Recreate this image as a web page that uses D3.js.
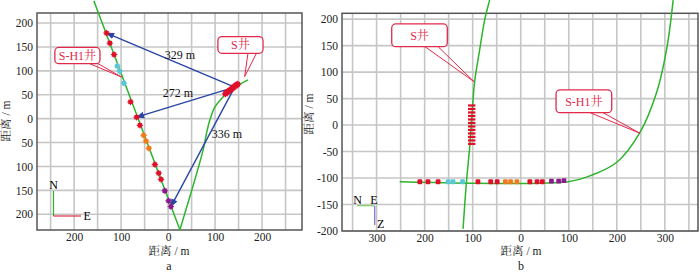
<!DOCTYPE html>
<html><head><meta charset="utf-8">
<script src="https://cdn.jsdelivr.net/npm/d3@7"></script>
<style>body{margin:0;background:#fff}svg{display:block}</style>
</head><body>
<svg id="c" width="700" height="272"></svg>
<script>
// ---------- data (metres) ----------
// Panel a: plan view
const aTicksX = [-200,-100,0,100,200];
const aTicksY = [-200,-150,-100,-50,0,50,100,150,200];
const aWellSH1 = [[-158,246.5],[25.3,-233]];
const aWellS = [[25,-233],[74.5,-66],[81.7,-31],[88.7,-3.5],[99.4,24],[113.6,41.7],[127.7,55.4],[144,67],[170,81]];
const aEventX = [-131,-124,-115,-108,-103,-94,-80,-67,-60,-52,-47,-41,-28,-20,-15,-7,1,6];
const aEventY = [179,158,134,110,99,74,35,3,-14,-35,-47,-62,-96,-114,-127,-151,-172,-184];
const eventGroup = [0,0,0,1,1,1,0,0,0,2,2,2,0,0,0,3,3,3];
const aSClusterX = [122,125,128,131,134,137,140,143,146,148];
const aSClusterY = [52,54.5,57,59,61.5,64,66,68.5,70.5,72];
const arrowFrom = [141.7,66];
const arrowToX = [-131,-67,6];
const arrowToY = [179,3,-184];
const distLabels = ["329 m","272 m","336 m"];
const distLabelX = [25,21,125];
const distLabelY = [134,55,-31];
// Panel b: vertical section
const bTicksX = [-300,-200,-100,0,100,200,300];
const bTicksY = [-200,-150,-100,-50,0,50,100,150,200];
const bWellS = [[-64.6,236],[-75,198.7],[-85.4,142.3],[-95.8,82.7],[-100.6,29.5],[-106,-39.5],[-113,-108],[-120,-196]];
const bWellSH1 = [[-252,-107],[98.6,-107],[143.7,-96],[199.4,-70.7],[248,-14.3],[282.7,61],[303.5,142],[317.3,236]];
const bEventX = [-210,-193,-172,-151,-141,-121,-89,-62.5,-49,-32,-21,-8,19,34,45,64,79,90];
const bEventY = [-107,-107,-107,-107,-107,-107,-107,-107,-107,-107,-107,-107,-107,-107,-107,-106,-106,-105];
const bSBarY = [37,30.4,23.8,17.2,10.6,4,-2.6,-9.2,-15.8,-22.4,-29,-35.6];
const bSBarX = -102;

const groupColors = ["#e0102a","#5bc7d6","#f07b1c","#8c1a8c"];
const green = "#2cb52c", blue = "#2a45a6", red = "#e2294a";
const serif = "'Liberation Serif','Times New Roman',serif";
const cjk = "'Liberation Serif','Noto Serif CJK SC','Noto Sans CJK SC',serif";

const svg = d3.select("#c");
const defs = svg.append("defs");
defs.append("marker").attr("id","ah").attr("viewBox","0 0 10 10").attr("refX",9).attr("refY",5)
  .attr("markerWidth",6).attr("markerHeight",6).attr("orient","auto-start-reverse")
  .append("path").attr("d","M0,1 L10,5 L0,9 z").attr("fill",blue);

// ---------- scales ----------
const xA = d3.scaleLinear().domain([-279,285]).range([37,302]);
const yA = d3.scaleLinear().domain([221,-233]).range([13,230]);
const xB = d3.scaleLinear().domain([-372,369]).range([342,698]);
const yB = d3.scaleLinear().domain([211,-200]).range([13.3,231]);

function panel(g, x, y, tx, ty, gx, gy, fmtY){
  const [x0,x1]=x.range(), [y0,y1]=y.range();
  g.append("g").selectAll("line").data(gx).join("line")
    .attr("x1",d=>x(d)).attr("x2",d=>x(d)).attr("y1",y0).attr("y2",y1)
    .attr("stroke","#c6c6c6").attr("stroke-width",1.6);
  g.append("g").selectAll("line").data(gy).join("line")
    .attr("y1",d=>y(d)).attr("y2",d=>y(d)).attr("x1",x0).attr("x2",x1)
    .attr("stroke","#c6c6c6").attr("stroke-width",1.6);
  g.append("rect").attr("x",x0).attr("y",y0).attr("width",x1-x0).attr("height",y1-y0)
    .attr("fill","none").attr("stroke","#555").attr("stroke-width",1.5);
  const ax = d3.axisBottom(x).tickValues(tx).tickSize(0).tickFormat(d=>Math.abs(d));
  const gax = g.append("g").attr("transform",`translate(0,${y1})`).call(ax);
  gax.select(".domain").remove();
  gax.selectAll("text").attr("dy",null).attr("y",10.5).attr("font-family",serif).attr("font-size",11.5).attr("fill","#222");
  const ay = d3.axisLeft(y).tickValues(ty).tickSize(0).tickFormat(fmtY);
  const gay = g.append("g").attr("transform",`translate(${x0},0)`).call(ay);
  gay.select(".domain").remove();
  gay.selectAll("text").attr("x",-4).attr("font-family",serif).attr("font-size",11.5).attr("fill","#222");
}

const line = d3.line().curve(d3.curveCatmullRom.alpha(0.5));
const straight = d3.line();

function callout(g, x, y, box, tip, base, label){
  g.append("path").attr("d",straight([[x(base[0][0]),y(base[0][1])],[x(tip[0]),y(tip[1])],[x(base[1][0]),y(base[1][1])]]))
    .attr("fill","none").attr("stroke",red).attr("stroke-width",1);
  const bx=x(box[0]), bw=x(box[1])-x(box[0]), by=y(box[2]), bh=y(box[3])-y(box[2]);
  g.append("rect").attr("x",bx).attr("y",by).attr("width",bw).attr("height",bh).attr("rx",4)
    .attr("fill","#fff").attr("stroke",red).attr("stroke-width",1.3);
  g.append("text").attr("x",bx+bw/2).attr("y",by+bh/2).attr("dy","0.35em").attr("text-anchor","middle")
    .attr("font-family",cjk).attr("font-size",12).attr("fill",red).text(label);
}

// ---------- panel a ----------
const ga = svg.append("g");
panel(ga, xA, yA, aTicksX, aTicksY, d3.range(-250,251,50), d3.range(-200,201,50), d=>Math.abs(d));
ga.append("path").attr("d",straight(aWellSH1.map(p=>[xA(p[0]),yA(p[1])])))
  .attr("fill","none").attr("stroke",green).attr("stroke-width",1.5);
ga.append("path").attr("d",line(aWellS.map(p=>[xA(p[0]),yA(p[1])])))
  .attr("fill","none").attr("stroke",green).attr("stroke-width",1.5);
// arrows
ga.append("g").selectAll("line").data(arrowToX).join("line")
  .attr("x1",xA(arrowFrom[0])).attr("y1",yA(arrowFrom[1]))
  .attr("x2",(d)=>xA(d)).attr("y2",(d,i)=>yA(arrowToY[i]))
  .attr("stroke",blue).attr("stroke-width",1.4).attr("marker-end","url(#ah)");
// events
function sq(g,cx,cy,col,s){
  g.append("rect").attr("x",cx-s/2).attr("y",cy-s/2).attr("width",s).attr("height",s).attr("fill",col);
  g.append("path").attr("d",`M${cx-s/2-1},${cy}H${cx+s/2+1}M${cx},${cy-s/2-1}V${cy+s/2+1}`).attr("stroke",col).attr("stroke-width",1);
}
aEventX.forEach((v,i)=>sq(ga,xA(v),yA(aEventY[i]),groupColors[eventGroup[i]],4.5));
aSClusterX.forEach((v,i)=>sq(ga,xA(v),yA(aSClusterY[i]),"#e0102a",5));
// distance labels
ga.append("g").selectAll("text").data(distLabels).join("text")
  .attr("x",(d,i)=>xA(distLabelX[i])).attr("y",(d,i)=>yA(distLabelY[i])).attr("dy","0.35em")
  .attr("text-anchor","middle").attr("font-family",serif).attr("font-size",12).attr("fill","#111").text(d=>d);
callout(ga,xA,yA,[-241,-145,149,115],[-99,87],[[-167,115],[-149,115]],"S-H1井");
callout(ga,xA,yA,[106,202,171.5,136.7],[163,88],[[170,136.7],[188,136.7]],"S井");
// compass a
ga.append("line").attr("x1",53.5).attr("x2",53.5).attr("y1",191).attr("y2",216).attr("stroke",green).attr("stroke-width",1.2);
ga.append("line").attr("x1",53.5).attr("x2",81).attr("y1",216).attr("y2",216).attr("stroke",red).attr("stroke-width",1.2);
ga.append("text").attr("x",53.5).attr("y",189).attr("text-anchor","middle").attr("font-family",serif).attr("font-size",12).text("N");
ga.append("text").attr("x",83.5).attr("y",220).attr("font-family",serif).attr("font-size",12).text("E");
ga.append("text").attr("x",169).attr("y",255).attr("text-anchor","middle").attr("font-family",cjk).attr("font-size",11.5).attr("fill","#222").text("距离 / m");
ga.append("text").attr("x",169).attr("y",269.5).attr("text-anchor","middle").attr("font-family",serif).attr("font-size",12).attr("fill","#222").text("a");
ga.append("text").attr("transform","translate(10,121) rotate(-90)").attr("text-anchor","middle").attr("font-family",cjk).attr("font-size",11.5).attr("fill","#222").text("距离 / m");

// ---------- panel b ----------
const gb = svg.append("g");
panel(gb, xB, yB, bTicksX, bTicksY, d3.range(-350,351,50), d3.range(-200,201,50), d=>d);
gb.append("path").attr("d",line(bWellS.map(p=>[xB(p[0]),yB(p[1])])))
  .attr("fill","none").attr("stroke",green).attr("stroke-width",1.5);
gb.append("path").attr("d",line(bWellSH1.map(p=>[xB(p[0]),yB(p[1])])))
  .attr("fill","none").attr("stroke",green).attr("stroke-width",1.5);
bSBarY.forEach(v=>gb.append("rect").attr("x",xB(bSBarX)-3.7).attr("y",yB(v)-1.1).attr("width",7.4).attr("height",2.2).attr("fill","#e0102a"));
bEventX.forEach((v,i)=>gb.append("rect").attr("x",xB(v)-2.4).attr("y",yB(bEventY[i])-2.4).attr("width",4.8).attr("height",4.8).attr("rx",1.2)
  .attr("fill",groupColors[eventGroup[i]]));
callout(gb,xB,yB,[-268.5,-152.8,190.9,148],[-97.2,81.9],[[-199.2,148],[-172,148]],"S井");
callout(gb,xB,yB,[73.5,189.4,66.3,23.4],[248.3,-15.5],[[144.3,23.4],[171.3,23.4]],"S-H1井");
// compass b
gb.append("line").attr("x1",357).attr("x2",374.5).attr("y1",205.7).attr("y2",205.7).attr("stroke","#7ccf6c").attr("stroke-width",1.2);
gb.append("line").attr("x1",374.7).attr("x2",374.7).attr("y1",206).attr("y2",225).attr("stroke","#7b72c8").attr("stroke-width",1.2);
gb.append("text").attr("x",357.5).attr("y",204).attr("text-anchor","middle").attr("font-family",serif).attr("font-size",12).text("N");
gb.append("text").attr("x",374).attr("y",204).attr("text-anchor","middle").attr("font-family",serif).attr("font-size",12).text("E");
gb.append("text").attr("x",377).attr("y",228).attr("font-family",serif).attr("font-size",12).text("Z");
gb.append("text").attr("x",521).attr("y",255).attr("text-anchor","middle").attr("font-family",cjk).attr("font-size",11.5).attr("fill","#222").text("距离 / m");
gb.append("text").attr("x",521).attr("y",269.5).attr("text-anchor","middle").attr("font-family",serif).attr("font-size",12).attr("fill","#222").text("b");
gb.append("text").attr("transform","translate(313,114) rotate(-90)").attr("text-anchor","middle").attr("font-family",cjk).attr("font-size",11.5).attr("fill","#222").text("距离 / m");
</script>
</body></html>
